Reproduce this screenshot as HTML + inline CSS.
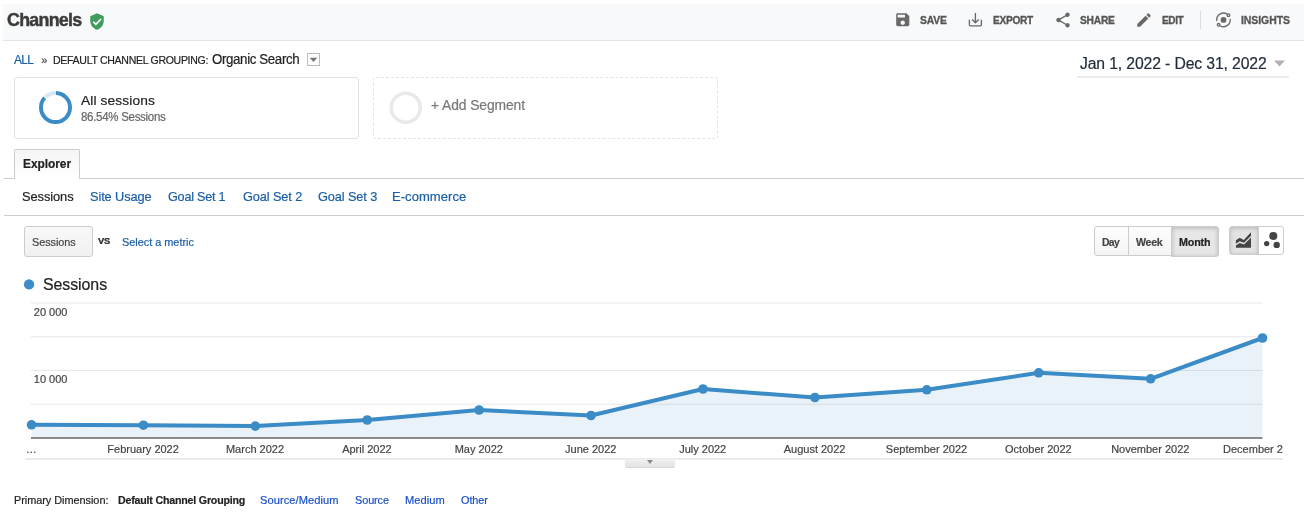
<!DOCTYPE html>
<html lang="en">
<head>
<meta charset="utf-8">
<title>Channels - Analytics</title>
<style>
*{box-sizing:border-box;margin:0;padding:0}
html,body{width:1304px;height:519px;overflow:hidden;background:#fff}
body{position:relative;font-family:"Liberation Sans",sans-serif;color:#222}
.t{position:absolute;white-space:nowrap;display:block;-webkit-text-stroke:0.2px}
.abs{position:absolute}
#page{position:absolute;left:0;top:0;width:1304px;height:519px;will-change:transform}
/* header */
#hdr{left:3px;top:4px;width:1301px;height:37px;background:#f8f9fa;border-bottom:1px solid #e3e3e3}
.ico{position:absolute;fill:#696969}
#vdiv{left:1200px;top:11px;width:1px;height:18px;background:#dadce0}
/* breadcrumb dropdown */
#ddbox{left:307px;top:53px;width:13px;height:13px;border:1px solid #bdbdbd;background:#fff}
/* segment cards */
#seg1{left:14px;top:77px;width:345px;height:62px;border:1px solid #e3e3e3;border-radius:3px;background:#fff}
#seg2{left:373px;top:77px;width:345px;height:62px;border:1px dashed #e4e4e4;border-radius:3px}
/* date */
#dateline{left:1077px;top:76px;width:212px;height:2px;background:#ececec}
/* tabs */
#tabline{left:4px;top:178px;width:1300px;height:1px;background:#ccc}
#tab{left:14px;top:149px;width:66px;height:30px;border:1px solid #ccc;border-bottom:none;border-radius:2px 2px 0 0;background:linear-gradient(#f5f5f5,#fff)}
#navline{left:4px;top:215px;width:1300px;height:1px;background:#cdcdcd}
/* metric button */
#mb{left:24px;top:226px;width:69px;height:31px;border:1px solid #ccc;border-radius:3px;background:linear-gradient(#f8f8f8,#f1f1f1)}
/* day week month */
.bt{position:absolute;border:1px solid #ccc;background:linear-gradient(#fdfdfd,#f4f4f4)}
#bday{left:1094px;top:226px;width:35px;height:30px;border-radius:3px 0 0 3px}
#bweek{left:1128px;top:226px;width:44px;height:30px}
#bmonth{left:1171px;top:226px;width:48px;height:31px;border-radius:0 3px 3px 0;background:#e6e6e6;box-shadow:inset 0 1px 4px rgba(0,0,0,.22)}
#bline{left:1229px;top:226px;width:30px;height:29px;border-radius:3px 0 0 3px;background:#e2e2e2;box-shadow:inset 0 1px 4px rgba(0,0,0,.2)}
#bmotion{left:1258px;top:226px;width:26px;height:29px;border-radius:0 3px 3px 0;background:#fff}
/* chart footer */
#cline{left:25px;top:458px;width:1258px;height:2px;background:#ebebeb}
#ctab{left:625.400px;top:459.200px;width:49.200px;height:7.600px;background:linear-gradient(#f1f1f1,#e3e3e3);border-radius:0 0 2px 2px;box-shadow:0 1px 1px rgba(0,0,0,.18)}
#ctab:after{content:"";position:absolute;left:21.400px;top:1.200px;border-left:3.700px solid transparent;border-right:3.700px solid transparent;border-top:4.200px solid #8a8a8a}
#ttl{left:7.4px;top:9.62px;font-size:19px;line-height:19px;font-weight:700;color:#3b3b3b;letter-spacing:-0.787px;transform:scaleX(0.9391);transform-origin:0 0;-webkit-text-stroke:0.45px #3b3b3b;}
#save{left:919.8px;top:15.41px;font-size:10.5px;line-height:10.5px;font-weight:700;color:#555;letter-spacing:-0.171px;transform:scaleX(0.9818);transform-origin:0 0;-webkit-text-stroke:0.3px #555;}
#export{left:992.7px;top:15.41px;font-size:10.5px;line-height:10.5px;font-weight:700;color:#555;letter-spacing:-0.306px;transform:scaleX(0.9662);transform-origin:0 0;-webkit-text-stroke:0.3px #555;}
#share{left:1080.3px;top:15.41px;font-size:10.5px;line-height:10.5px;font-weight:700;color:#555;letter-spacing:-0.237px;transform:scaleX(0.9748);transform-origin:0 0;-webkit-text-stroke:0.3px #555;}
#edit{left:1161.6px;top:15.41px;font-size:10.5px;line-height:10.5px;font-weight:700;color:#555;letter-spacing:-0.385px;transform:scaleX(0.955);transform-origin:0 0;-webkit-text-stroke:0.3px #555;}
#insights{left:1240.9px;top:15.41px;font-size:10.5px;line-height:10.5px;font-weight:700;color:#555;letter-spacing:-0.049px;transform:scaleX(0.9931);transform-origin:0 0;-webkit-text-stroke:0.3px #555;}
#all{left:14.2px;top:54.12px;font-size:12.5px;line-height:12.5px;font-weight:400;color:#1a5ea6;letter-spacing:-0.603px;transform:scaleX(0.9486);transform-origin:0 0;}
#raquo{left:41.3px;top:54.59px;font-size:11px;line-height:11px;font-weight:400;color:#444;letter-spacing:0px;}
#dcg{left:53.2px;top:54.59px;font-size:11px;line-height:11px;font-weight:400;color:#222;letter-spacing:-0.312px;transform:scaleX(0.9578);transform-origin:0 0;}
#org{left:212.4px;top:51.65px;font-size:14px;line-height:14px;font-weight:400;color:#222;letter-spacing:-0.388px;transform:scaleX(0.9503);transform-origin:0 0;}
#alls{left:81.2px;top:94.07px;font-size:13.5px;line-height:13.5px;font-weight:400;color:#222;letter-spacing:0.119px;transform:scaleX(1.0187);transform-origin:0 0;}
#pct{left:81.2px;top:110.94px;font-size:12px;line-height:12px;font-weight:400;color:#666;letter-spacing:-0.296px;transform:scaleX(0.9573);transform-origin:0 0;}
#addseg{left:431.1px;top:98.25px;font-size:14px;line-height:14px;font-weight:400;color:#777;letter-spacing:-0.089px;transform:scaleX(0.9891);transform-origin:0 0;}
#date{left:1080.0px;top:56.46px;font-size:16px;line-height:16px;font-weight:400;color:#222d3b;letter-spacing:-0.129px;transform:scaleX(0.9836);transform-origin:0 0;}
#explorer{left:23.0px;top:158.04px;font-size:12px;line-height:12px;font-weight:700;color:#222;letter-spacing:-0.044px;transform:scaleX(0.9937);transform-origin:0 0;}
#n1{left:22.0px;top:190.4px;font-size:13px;line-height:13px;font-weight:400;color:#222;letter-spacing:-0.083px;transform:scaleX(0.9892);transform-origin:0 0;}
#n2{left:90.4px;top:190.4px;font-size:13px;line-height:13px;font-weight:400;color:#1a5ea6;letter-spacing:-0.111px;transform:scaleX(0.9845);transform-origin:0 0;}
#n3{left:168.1px;top:190.4px;font-size:13px;line-height:13px;font-weight:400;color:#1a5ea6;letter-spacing:-0.218px;transform:scaleX(0.969);transform-origin:0 0;}
#n4{left:243.0px;top:190.4px;font-size:13px;line-height:13px;font-weight:400;color:#1a5ea6;letter-spacing:-0.124px;transform:scaleX(0.9821);transform-origin:0 0;}
#n5{left:318.0px;top:190.4px;font-size:13px;line-height:13px;font-weight:400;color:#1a5ea6;letter-spacing:-0.124px;transform:scaleX(0.9821);transform-origin:0 0;}
#n6{left:392.0px;top:190.4px;font-size:13px;line-height:13px;font-weight:400;color:#1a5ea6;letter-spacing:0.031px;transform:scaleX(1.0038);transform-origin:0 0;}
#mbtn{left:32.0px;top:236.99px;font-size:11px;line-height:11px;font-weight:400;color:#444;letter-spacing:-0.067px;transform:scaleX(0.9897);transform-origin:0 0;}
#vs{left:97.7px;top:236.16px;font-size:9.5px;line-height:9.5px;font-weight:700;color:#222;letter-spacing:-0.171px;transform:scaleX(0.9864);transform-origin:0 0;}
#selm{left:121.7px;top:236.99px;font-size:11px;line-height:11px;font-weight:400;color:#1a5ea6;letter-spacing:-0.03px;transform:scaleX(0.9942);transform-origin:0 0;}
#day{left:1101.8px;top:236.79px;font-size:11px;line-height:11px;font-weight:700;color:#444;letter-spacing:-0.682px;transform:scaleX(0.9392);transform-origin:0 0;}
#week{left:1136.1px;top:236.79px;font-size:11px;line-height:11px;font-weight:700;color:#444;letter-spacing:-0.313px;transform:scaleX(0.9691);transform-origin:0 0;}
#month{left:1179.4px;top:236.79px;font-size:11px;line-height:11px;font-weight:700;color:#222;letter-spacing:-0.187px;transform:scaleX(0.978);transform-origin:0 0;}
#leg{left:43.1px;top:276.96px;font-size:16px;line-height:16px;font-weight:400;color:#222;letter-spacing:-0.059px;transform:scaleX(0.9937);transform-origin:0 0;}
#pd{left:14.3px;top:494.69px;font-size:11px;line-height:11px;font-weight:400;color:#222;letter-spacing:-0.045px;transform:scaleX(0.9921);transform-origin:0 0;}
#pd1{left:117.6px;top:494.69px;font-size:11px;line-height:11px;font-weight:700;color:#222;letter-spacing:-0.201px;transform:scaleX(0.967);transform-origin:0 0;}
#pd2{left:260.0px;top:494.69px;font-size:11px;line-height:11px;font-weight:400;color:#1a50c8;letter-spacing:0.063px;transform:scaleX(1.01);transform-origin:0 0;}
#pd3{left:354.7px;top:494.69px;font-size:11px;line-height:11px;font-weight:400;color:#1a50c8;letter-spacing:-0.085px;transform:scaleX(0.988);transform-origin:0 0;}
#pd4{left:405.0px;top:494.69px;font-size:11px;line-height:11px;font-weight:400;color:#1a50c8;letter-spacing:0.073px;transform:scaleX(1.0095);transform-origin:0 0;}
#pd5{left:460.8px;top:494.69px;font-size:11px;line-height:11px;font-weight:400;color:#1a50c8;letter-spacing:-0.082px;transform:scaleX(0.9884);transform-origin:0 0;}
</style>
</head>
<body>
<div id="page">
<div class="abs" id="hdr"></div>
<!-- shield -->
<svg class="abs" style="left:88px;top:12px" width="18" height="19" viewBox="0 0 24 24"><path fill="#3f9c5c" d="M12 1L3 5v6c0 5.55 3.84 10.74 9 12 5.160-1.260 9-6.450 9-12V5l-9-4z"/><path fill="none" stroke="#fff" stroke-width="2.2" d="M7 12.3l3.400 3.400 7-7"/></svg>
<!-- header icons -->
<svg class="ico" style="left:893.800px;top:11.200px" width="17.500" height="17.500" viewBox="0 0 24 24"><path d="M17 3H5c-1.110 0-2 .9-2 2v14c0 1.100.890 2 2 2h14c1.100 0 2-.9 2-2V7l-4-4zm-5 16c-1.660 0-3-1.340-3-3s1.340-3 3-3 3 1.340 3 3-1.340 3-3 3zm3-10H5V5h10v4z"/></svg>
<svg class="abs" style="left:960px;top:6px" width="30" height="28" viewBox="960 6 30 28"><path fill="none" stroke="#696969" stroke-width="1.350" stroke-linejoin="round" d="M969.400 19.800V24.800Q969.400 25.900 970.500 25.900H980.300Q981.400 25.900 981.400 24.800V19.800M975.400 13V22.700M972.100 19.500L975.400 22.800L978.700 19.500"/></svg>
<svg class="ico" style="left:1054px;top:11px" width="18" height="18" viewBox="0 0 24 24"><path d="M18 16.080c-.760 0-1.440.3-1.960.770L8.910 12.700c.050-.230.090-.460.090-.7s-.040-.470-.090-.7l7.050-4.110c.540.5 1.250.810 2.040.810 1.660 0 3-1.340 3-3s-1.340-3-3-3-3 1.340-3 3c0 .240.040.470.090.7L8.040 9.810C7.500 9.310 6.790 9 6 9c-1.660 0-3 1.340-3 3s1.340 3 3 3c.790 0 1.500-.310 2.040-.810l7.120 4.160c-.050.210-.080.430-.080.650 0 1.610 1.310 2.920 2.920 2.920 1.610 0 2.920-1.310 2.920-2.920s-1.310-2.920-2.920-2.920z"/></svg>
<svg class="ico" style="left:1135.400px;top:11px" width="18" height="18" viewBox="0 0 24 24"><path d="M3 17.250V21h3.750L17.810 9.940l-3.750-3.750L3 17.250zM20.710 7.040c.390-.390.390-1.020 0-1.410l-2.340-2.340c-.390-.390-1.020-.390-1.410 0l-1.830 1.830 3.750 3.750 1.830-1.830z"/></svg>
<svg class="abs" style="left:1204px;top:4px" width="40" height="32" viewBox="1204 4 40 32"><g fill="none" stroke="#696969" stroke-width="1.300" stroke-linecap="round"><path d="M1227.040 14.100A6.800 6.800 0 0 0 1216.730 20.490"/><path d="M1219.960 25.700A6.800 6.800 0 0 0 1230.270 19.310"/><circle cx="1228.500" cy="15.200" r="1.300"/><circle cx="1218.600" cy="24.800" r="1.300"/></g><circle cx="1223.500" cy="19.900" r="2.900" fill="#696969"/></svg>
<div class="abs" id="vdiv"></div>

<div class="abs" id="ddbox"></div><svg class="abs" style="left:307px;top:53px" width="13" height="13" viewBox="307 53 13 13"><path fill="#777" d="M309.600 57.800H317.400L313.500 61.900z"/></svg>
<div class="abs" id="seg1"></div>
<div class="abs" id="seg2"></div>
<svg class="abs" style="left:36px;top:88px" width="40" height="40" viewBox="0 0 40 40"><circle cx="19.500" cy="19.500" r="14.550" fill="none" stroke="#d6e8f4" stroke-width="3.900" stroke-dasharray="11.300 80.120" stroke-dashoffset="-79.600" transform="rotate(-90 19.500 19.500)"/><circle cx="19.500" cy="19.500" r="14.550" fill="none" stroke="#3b8bc6" stroke-width="3.900" stroke-dasharray="78.300 13.120" stroke-dashoffset="-0.400" transform="rotate(-90 19.500 19.500)"/></svg>
<svg class="abs" style="left:386px;top:88px" width="40" height="40" viewBox="0 0 40 40"><circle cx="19.800" cy="19.800" r="14.500" fill="none" stroke="#e9e9e9" stroke-width="3.600"/></svg>
<div class="abs" id="dateline"></div><svg class="abs" style="left:1270px;top:56px" width="20" height="14" viewBox="1270 56 20 14"><path fill="#b2b2b2" d="M1274 60.400H1285L1279.500 66.500z"/></svg>

<div class="abs" id="tabline"></div><div class="abs" id="tab"></div>
<div class="abs" id="navline"></div>
<div class="abs" id="mb"></div>
<div class="bt" id="bday"></div><div class="bt" id="bweek"></div><div class="bt" id="bmonth"></div>
<div class="bt" id="bline"></div><div class="bt" id="bmotion"></div>
<svg class="abs" style="left:1230px;top:228px" width="26" height="24" viewBox="1230 228 26 24"><path fill="#444" d="M1235.900 240.300L1239.700 237.700L1243.800 239.900L1251 232.300V235.800L1244.100 242.800L1239.700 241.300L1235.900 243.800z"/><path fill="#444" d="M1235.900 245.600L1239.700 243L1244.100 244.500L1251 237.500V247.800H1235.900z"/></svg>
<svg class="abs" style="left:1262px;top:230px" width="20" height="20" viewBox="0 0 20 20"><circle cx="11.300" cy="5.900" r="4" fill="#444"/><circle cx="4.700" cy="13.600" r="2.700" fill="#444"/><circle cx="14.700" cy="14.900" r="3.200" fill="#444"/></svg>

<svg class="abs" style="left:20px;top:275px" width="18" height="18" viewBox="20 275 18 18"><circle cx="29.050" cy="284.450" r="5.150" fill="#3f8dc8"/></svg>
<!-- chart -->
<svg class="abs" style="left:0;top:295px" width="1283" height="165" viewBox="0 295 1283 165" font-family='"Liberation Sans",sans-serif' font-size="11" fill="#444" stroke="#444" stroke-width="0.200">
<g stroke="#e7e7e7" stroke-width="1"><path d="M31 303H1262.500M31 336.750H1262.500M31 370.500H1262.500M31 404.250H1262.500"/></g>
<path stroke="none" fill="#3b8bc6" fill-opacity="0.115" d="M31.5 424.8L143.4 425.2L255.3 426.1L367.2 420.0L479.1 410.0L591.0 415.5L703.0 389.0L814.9 397.5L926.8 389.8L1038.7 372.8L1150.6 378.8L1262.5 338.0V438H31.500z"/>
<path fill="none" stroke="#3b8bc6" stroke-width="4" stroke-linejoin="round" d="M31.5 424.8L143.4 425.2L255.3 426.1L367.2 420.0L479.1 410.0L591.0 415.5L703.0 389.0L814.9 397.5L926.8 389.8L1038.7 372.8L1150.6 378.8L1262.5 338.0"/>
<g fill="#3b8bc6" stroke="none"><circle cx="31.5" cy="424.8" r="4.800"/><circle cx="143.4" cy="425.2" r="4.800"/><circle cx="255.3" cy="426.1" r="4.800"/><circle cx="367.2" cy="420.0" r="4.800"/><circle cx="479.1" cy="410.0" r="4.800"/><circle cx="591.0" cy="415.5" r="4.800"/><circle cx="703.0" cy="389.0" r="4.800"/><circle cx="814.9" cy="397.5" r="4.800"/><circle cx="926.8" cy="389.8" r="4.800"/><circle cx="1038.7" cy="372.8" r="4.800"/><circle cx="1150.6" cy="378.8" r="4.800"/><circle cx="1262.5" cy="338.0" r="4.800"/></g>
<rect stroke="none" x="31" y="437" width="1231.500" height="2" fill="#8a8a8a"/>
<text x="33.800" y="315.600">20 000</text><text x="33.800" y="383.200">10 000</text>
<g text-anchor="middle"><text x="31.2" y="453">…</text><text x="143.1" y="453">February 2022</text><text x="255.0" y="453">March 2022</text><text x="366.9" y="453">April 2022</text><text x="478.8" y="453">May 2022</text><text x="590.8" y="453">June 2022</text><text x="702.7" y="453">July 2022</text><text x="814.6" y="453">August 2022</text><text x="926.5" y="453">September 2022</text><text x="1038.4" y="453">October 2022</text><text x="1150.3" y="453">November 2022</text><text x="1262.2" y="453">December 2022</text></g>
</svg>
<div class="abs" id="cline"></div><div class="abs" id="ctab"></div>
<div class="grp header">
<span class="t" id="ttl">Channels</span>
<span class="t" id="save">SAVE</span>
<span class="t" id="export">EXPORT</span>
<span class="t" id="share">SHARE</span>
<span class="t" id="edit">EDIT</span>
<span class="t" id="insights">INSIGHTS</span>
</div>
<div class="grp breadcrumb">
<span class="t" id="all">ALL</span>
<span class="t" id="raquo">»</span>
<span class="t" id="dcg">DEFAULT CHANNEL GROUPING:</span>
<span class="t" id="org">Organic Search</span>
</div>
<div class="grp segments">
<span class="t" id="alls">All sessions</span>
<span class="t" id="pct">86.54% Sessions</span>
<span class="t" id="addseg">+ Add Segment</span>
</div>
<div class="grp daterange">
<span class="t" id="date">Jan 1, 2022 - Dec 31, 2022</span>
</div>
<div class="grp tabs">
<span class="t" id="explorer">Explorer</span>
</div>
<div class="grp metric-groups">
<span class="t" id="n1">Sessions</span>
<span class="t" id="n2">Site Usage</span>
<span class="t" id="n3">Goal Set 1</span>
<span class="t" id="n4">Goal Set 2</span>
<span class="t" id="n5">Goal Set 3</span>
<span class="t" id="n6">E-commerce</span>
</div>
<div class="grp chart-controls">
<span class="t" id="mbtn">Sessions</span>
<span class="t" id="vs">VS</span>
<span class="t" id="selm">Select a metric</span>
<span class="t" id="day">Day</span>
<span class="t" id="week">Week</span>
<span class="t" id="month">Month</span>
</div>
<div class="grp chart-legend">
<span class="t" id="leg">Sessions</span>
</div>
<div class="grp primary-dimension">
<span class="t" id="pd">Primary Dimension:</span>
<span class="t" id="pd1">Default Channel Grouping</span>
<span class="t" id="pd2">Source/Medium</span>
<span class="t" id="pd3">Source</span>
<span class="t" id="pd4">Medium</span>
<span class="t" id="pd5">Other</span>
</div>
</div>
</body>
</html>
